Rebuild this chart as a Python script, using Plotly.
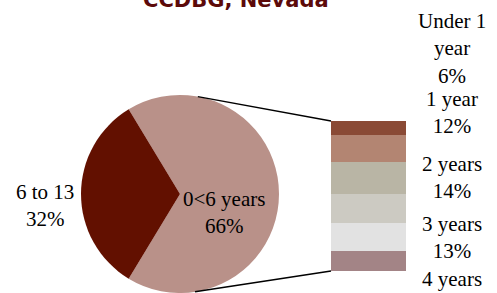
import math
import plotly.graph_objects as go

# ---------------- data ----------------
pie_labels = ["0<6 years", "6 to 13"]
pie_values = [66, 32]
pie_colors = ["#b99189", "#621000"]

bar_labels = ["Under 1 year", "1 year", "2 years", "3 years", "4 years", "5 years"]
bar_values = [6, 12, 14, 13, 12, 9]
bar_colors = ["#8a4a35", "#b38572", "#b9b5a5", "#cccac2", "#e2e2e2", "#a38486"]

bar_label_text = ["Under 1<br>year<br>6%", "1 year<br>12%", "2 years<br>14%",
                  "3 years<br>13%", "4 years<br>12%"]
pie_label_text = ["0<6 years<br>66%", "6 to 13<br>32%"]

title_text = "CCDBG, Nevada"

# ---------------- layout geometry (pixels) ----------------
W, H = 497, 293
pie_cx, pie_cy, pie_r = 180, 194, 99
bar_x0, bar_x1 = 331, 406
bar_y0, bar_y1 = 121, 271  # top, bottom in px

def px(x):
    return x / W

def py(y):
    return 1 - y / H

fig = go.Figure()

total = sum(pie_values)
rotation = 270 - (pie_values[0] + pie_values[1] / 2) / total * 360

fig.add_trace(go.Pie(
    labels=pie_labels, values=pie_values, sort=False, direction="clockwise",
    rotation=rotation, marker=dict(colors=pie_colors, line=dict(width=0)),
    textinfo="none", hoverinfo="label+value",
    domain=dict(x=[px(pie_cx - pie_r), px(pie_cx + pie_r)],
                y=[py(pie_cy + pie_r), py(pie_cy - pie_r)]),
    showlegend=False,
))

for lab, val, col in zip(bar_labels, bar_values, bar_colors):
    fig.add_trace(go.Bar(x=[0], y=[val], name=lab, width=1,
                         marker=dict(color=col, line=dict(width=0)),
                         xaxis="x", yaxis="y", showlegend=False))

fig.update_layout(
    width=W, height=H, margin=dict(l=0, r=0, t=0, b=0),
    paper_bgcolor="white", plot_bgcolor="rgba(0,0,0,0)",
    barmode="stack", bargap=0,
    xaxis=dict(domain=[px(bar_x0), px(bar_x1)], range=[-0.5, 0.5], visible=False, fixedrange=True),
    yaxis=dict(domain=[py(bar_y1), py(bar_y0)], range=[sum(bar_values), 0], visible=False, fixedrange=True),
    font=dict(family="Liberation Serif", size=21, color="black"),
)

# connector lines: tangents from bar corners to pie circle
def tangent(P, upper):
    dx, dy = P[0] - pie_cx, P[1] - pie_cy
    d = math.hypot(dx, dy)
    base = math.atan2(dy, dx)
    off = math.acos(pie_r / d)
    ang = base - off if upper else base + off
    return (pie_cx + pie_r * math.cos(ang), pie_cy + pie_r * math.sin(ang))

for P, upper in [((bar_x0, bar_y0), True), ((bar_x0, bar_y1), False)]:
    T = tangent(P, upper)
    fig.add_shape(type="line", xref="paper", yref="paper",
                  x0=px(T[0]), y0=py(T[1]), x1=px(P[0]), y1=py(P[1]),
                  line=dict(color="black", width=1.5))

# labels
bar_label_x = 452
bar_label_tops = [7, 85, 150, 210, 265]
for txt, top in zip(bar_label_text, bar_label_tops):
    fig.add_annotation(text=txt, x=px(bar_label_x), y=py(top), xref="paper", yref="paper",
                       xanchor="center", yanchor="top", showarrow=False, align="center")

pie_label_pos = [(224, 185), (45, 178)]
for txt, (x, top) in zip(pie_label_text, pie_label_pos):
    fig.add_annotation(text=txt, x=px(x), y=py(top), xref="paper", yref="paper",
                       xanchor="center", yanchor="top", showarrow=False, align="center")

fig.add_annotation(text="<b>" + title_text + "</b>", x=px(236), y=py(0), xref="paper", yref="paper",
                   xanchor="center", yanchor="middle", showarrow=False,
                   font=dict(family="DejaVu Sans", size=21, color="#5c0a0a"))

fig.write_html("out.html", config={"displayModeBar": False},
               post_script="document.body.style.margin='0';")
